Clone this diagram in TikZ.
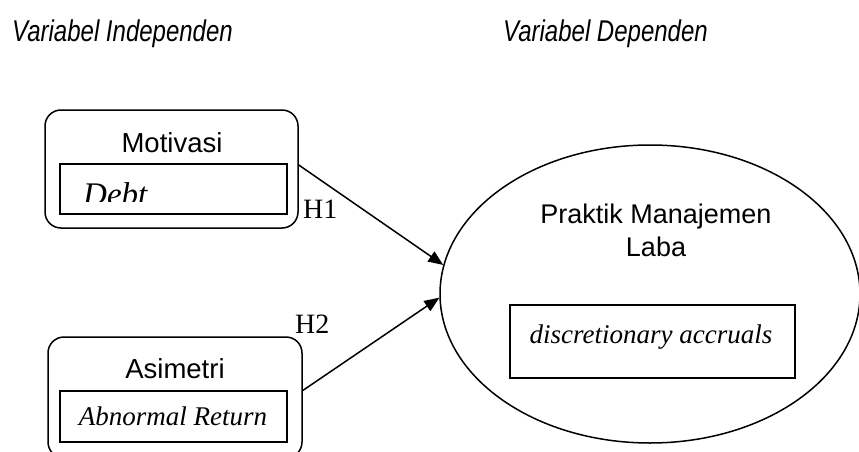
\documentclass[tikz,border=0pt]{standalone}
\usepackage{fontspec}
\setmainfont{Liberation Serif}
\setsansfont{Liberation Sans}
\usetikzlibrary{shapes.geometric,arrows.meta}

\tikzset{
  var/.style={draw, line width=1.5pt, rounded corners=16pt, inner sep=0pt},
  ind/.style={draw, line width=1.3pt, inner sep=0pt},
  sans/.style={font=\sffamily\fontsize{27.5}{30}\selectfont, inner sep=0pt},
  ital/.style={font=\itshape\fontsize{27}{30}\selectfont, inner sep=0pt},
  hyp/.style={font=\fontsize{28}{30}\selectfont, inner sep=0pt},
  head/.style={font=\sffamily\itshape\fontsize{30}{36}\selectfont, inner sep=0pt},
  link/.style={line width=1.5pt, -{Triangle[length=15pt,width=12pt]}}
}

\begin{document}
\begin{tikzpicture}[x=1pt, y=-1pt]
\useasboundingbox (0,0) rectangle (859,452);

\node[head, anchor=base west] (hi) at (12,42) {\scalebox{0.8}[1]{Variabel Independen}};
\node[head, anchor=base west] (hd) at (503,42) {\scalebox{0.8}[1]{Variabel Dependen}};

% motivasi
\node[var, minimum width=253pt, minimum height=118pt] (mot) at (171.5,169) {};
\node[sans, anchor=base] (motl) at (172,152) {Motivasi};
\node[ind, minimum width=227pt, minimum height=50pt] (debt) at (173.5,189) {};
\begin{scope}
\clip (61,165) rectangle (286,201);
\node[ital, font=\itshape\fontsize{33}{36}\selectfont, anchor=base west] (debtl) at (83,205) {Debt};
\end{scope}

% asimetri
\node[var, minimum width=254pt, minimum height=121pt] (asi) at (175,397.5) {};
\node[sans, anchor=base] (asil) at (175,378) {Asimetri};
\node[ind, minimum width=227pt, minimum height=51pt] (ret) at (173.5,416.5) {};
\node[ital, anchor=base] (retl) at (173,425) {Abnormal Return};

% praktik manajemen laba
\node[draw, ellipse, line width=1.5pt, minimum width=420pt, minimum height=298pt, inner sep=0pt] (plm) at (650,294) {};
\node[sans, font=\sffamily\fontsize{27}{30}\selectfont, anchor=base] (plm1) at (656,223) {Praktik Manajemen};
\node[sans, font=\sffamily\fontsize{27}{30}\selectfont, anchor=base] (plm2) at (656,256) {Laba};
\node[ind, minimum width=285pt, minimum height=73pt] (da) at (652.5,341.5) {};
\node[ital, anchor=base] (dal) at (651,343) {discretionary accruals};

\draw[link] ([yshift=4pt]mot.east) -- (plm.172);
\draw[link] ([yshift=7pt]asi.east) -- (plm.181);

\node[hyp, anchor=base west] (h1) at (303,218) {H1};
\node[hyp, anchor=base west] (h2) at (295,333) {H2};

\end{tikzpicture}
\end{document}
